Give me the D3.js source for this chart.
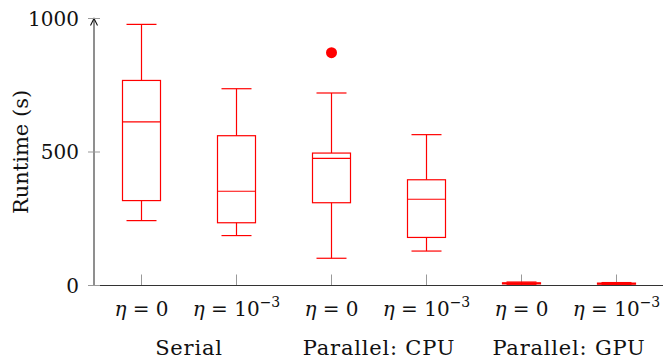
<!DOCTYPE html>
<html><head><meta charset="utf-8">
<script src="https://cdn.jsdelivr.net/npm/d3@7"></script>
<style>body{margin:0;background:#fff}svg{display:block}text{font-family:"DejaVu Serif","Liberation Serif",serif;}</style>
</head><body>
<svg id="c" width="663" height="361"></svg>
<script>
const categories = ["s0","s3","c0","c3","g0","g3"];
const etaLabels = ["0","10^-3","0","10^-3","0","10^-3"];
const groups = ["Serial","Parallel: CPU","Parallel: GPU"];
const lowWhisker = [243, 187, 102, 129, 3, 3];
const q1 = [318, 235, 310, 180, 6, 5];
const median = [613, 353, 476, 323, 8, 7];
const q3 = [768, 561, 496, 396, 10, 9];
const highWhisker = [978, 737, 721, 565, 13, 11];
const outliers = [[], [], [872], [], [], []];
const yTicks = [0, 500, 1000];

const svg = d3.select("#c");
const x = d3.scaleBand().domain(categories).range([94, 664]).paddingInner(0).paddingOuter(0);
const y = d3.scaleLinear().domain([0, 1000]).range([285.5, 18.5]);
const cx = c => x(c) + x.bandwidth()/2;
const red = "#ff0000";
const boxW = 38, capW = 30;

// x ticks (inside, upward)
svg.append("g").selectAll("line").data(categories).join("line")
  .attr("x1", cx).attr("x2", cx).attr("y1", y(0)).attr("y2", y(0)-11)
  .attr("stroke", "#999").attr("stroke-width", 1);

// boxes
const g = svg.append("g").attr("stroke", red).attr("fill", "none").attr("stroke-width", 1.2);
categories.forEach((c, i) => {
  const X = cx(c);
  g.append("line").attr("x1", X).attr("x2", X).attr("y1", y(highWhisker[i])).attr("y2", y(q3[i]));
  g.append("line").attr("x1", X).attr("x2", X).attr("y1", y(q1[i])).attr("y2", y(lowWhisker[i]));
  g.append("line").attr("x1", X-capW/2).attr("x2", X+capW/2).attr("y1", y(highWhisker[i])).attr("y2", y(highWhisker[i]));
  g.append("line").attr("x1", X-capW/2).attr("x2", X+capW/2).attr("y1", y(lowWhisker[i])).attr("y2", y(lowWhisker[i]));
  g.append("rect").attr("x", X-boxW/2).attr("width", boxW).attr("y", y(q3[i])).attr("height", Math.max(0.1, y(q1[i])-y(q3[i])));
  g.append("line").attr("x1", X-boxW/2).attr("x2", X+boxW/2).attr("y1", y(median[i])).attr("y2", y(median[i]));
  outliers[i].forEach(o => svg.append("circle").attr("cx", X).attr("cy", y(o)).attr("r", 5.5).attr("fill", red));
});

// axes
svg.append("line").attr("x1", 94).attr("x2", 664).attr("y1", y(0)).attr("y2", y(0)).attr("stroke", "#333").attr("stroke-width", 1.1);
svg.append("line").attr("x1", 94).attr("x2", 94).attr("y1", y(0)).attr("y2", 19).attr("stroke", "#333").attr("stroke-width", 1.1);
svg.append("path").attr("d", "M90.5,25.5 L94,18.5 L97.5,25.5").attr("fill", "none").attr("stroke", "#111").attr("stroke-width", 1.1);

// y ticks
svg.append("g").selectAll("line").data(yTicks).join("line")
  .attr("x1", 88).attr("x2", 100).attr("y1", d => y(d)).attr("y2", d => y(d))
  .attr("stroke", "#999").attr("stroke-width", 1);
svg.append("g").selectAll("text").data(yTicks).join("text")
  .attr("x", 79).attr("y", d => y(d)).attr("dy", "0.36em").attr("text-anchor", "end")
  .attr("font-size", 20).attr("fill", "#111").text(d => d);

// y label
svg.append("text").attr("transform", `translate(28,${(y(0)+y(1000))/2}) rotate(-90)`)
  .attr("text-anchor", "middle").attr("font-size", 21).attr("fill", "#111").text("Runtime (s)");

// eta labels
categories.forEach((c, i) => {
  const t = svg.append("text").attr("x", cx(c)).attr("y", 316).attr("text-anchor", "middle")
    .attr("font-size", 20).attr("fill", "#111");
  t.append("tspan").attr("font-style", "italic").text("η");
  t.append("tspan").text(" = ");
  if (etaLabels[i] === "0") t.append("tspan").text("0");
  else {
    t.append("tspan").text("10");
    t.append("tspan").attr("dy", -9).attr("font-size", 14).text("−3");
  }
});

// group labels
groups.forEach((gname, k) => {
  const X = (cx(categories[2*k]) + cx(categories[2*k+1]))/2;
  svg.append("text").attr("x", X).attr("y", 355).attr("text-anchor", "middle")
    .attr("font-size", 21).attr("letter-spacing", 0.8).attr("fill", "#111").text(gname);
});
</script>
</body></html>
